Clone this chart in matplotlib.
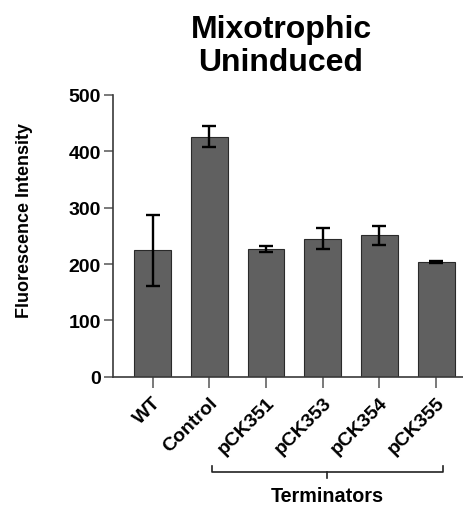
import numpy as np
import matplotlib
matplotlib.use('Agg')
import matplotlib.pyplot as plt
import matplotlib.transforms as mtransforms

plt.rcParams['font.family'] = ['Liberation Sans', 'DejaVu Sans']
plt.rcParams['font.weight'] = 'bold'

labels = ['WT', 'Control', 'pCK351', 'pCK353', 'pCK354', 'pCK355']
means = [224, 426, 227, 245, 251, 203]
errs = [63, 19, 5, 19, 17, 2]
group_label = 'Terminators'

fig = plt.figure(figsize=(4.64, 5.06), dpi=100)
ax = fig.add_axes([0.243, 0.2536, 0.755, 0.5567])

x = np.arange(len(labels))
ax.bar(x, means, width=0.65, color='#606060', edgecolor='#2a2a2a', linewidth=0.8, zorder=2)
ax.errorbar(x, means, yerr=errs, fmt='none', ecolor='black', elinewidth=1.7,
            capsize=4.8, capthick=1.7, zorder=3)

ax.set_xlim(-0.702, 5.476)
ax.set_ylim(0, 500)
ax.set_yticks([0, 100, 200, 300, 400, 500])
ax.set_xticks(x)
ax.set_xticklabels(labels, rotation=45, ha='right', rotation_mode='anchor')

for s in ['top', 'right']:
    ax.spines[s].set_visible(False)
for s in ['left', 'bottom']:
    ax.spines[s].set_color('#3a3a3a')
    ax.spines[s].set_linewidth(1.2)

ax.tick_params(axis='y', length=6.5, width=1.1, color='#555555', labelsize=14, pad=2)
ax.tick_params(axis='x', length=8, width=1.1, color='#555555', labelsize=14, pad=4)

fig.text(25 / 464, 0.5644, 'Fluorescence Intensity', rotation=90, ha='center', va='center',
         fontsize=13, fontweight='bold')
fig.text(281 / 464, 1 - 15 / 506, 'Mixotrophic\nUninduced', ha='center', va='top',
         fontsize=23, fontweight='bold', linespacing=1.15)

# bracket under the terminator constructs
trans = mtransforms.blended_transform_factory(ax.transData, ax.transAxes)
x0, x1, xm = 1.055, 5.118, 3.083
ax.plot([x0, x0, x1, x1], [-0.316, -0.339, -0.339, -0.316], color='#222222', lw=1.2,
        transform=trans, clip_on=False)
ax.plot([xm, xm], [-0.339, -0.361], color='#222222', lw=1.2, transform=trans, clip_on=False)
ax.text(xm, -0.441, group_label, transform=trans, ha='center', va='baseline',
        fontsize=14.2, fontweight='bold')

fig.savefig('out.png', dpi=100)
